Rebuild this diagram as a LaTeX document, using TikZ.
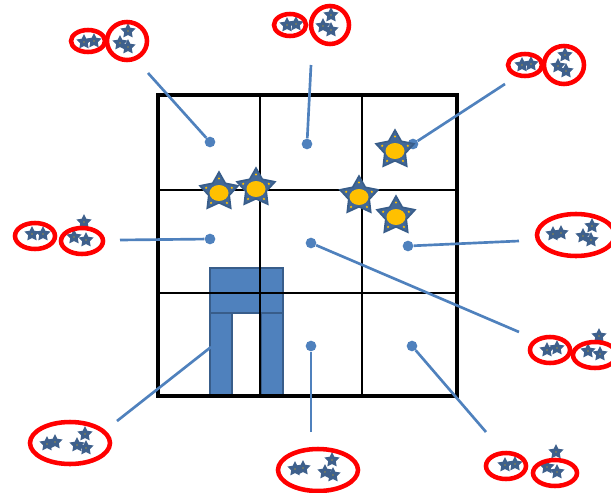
\documentclass[tikz,border=0pt]{standalone}
\usetikzlibrary{shapes.geometric}
\definecolor{linkblue}{RGB}{79,129,189}
\definecolor{shapeblue}{RGB}{79,129,189}
\definecolor{shapeedge}{RGB}{56,93,138}
\definecolor{starblue}{RGB}{62,96,140}
\definecolor{bigstarblue}{RGB}{66,104,152}
\definecolor{staryellow}{RGB}{255,192,0}
\definecolor{ringred}{RGB}{255,0,0}
\tikzset{
  smallstar/.pic={
    \fill[starblue] (-90:8) -- (-54:4) -- (-18:8) -- (18:4) -- (54:8) -- (90:4)
      -- (126:8) -- (162:4) -- (198:8) -- (234:4) -- cycle;
    \fill[staryellow] (0,0) circle (0.7);
  },
  bigstar/.pic={
    \filldraw[fill=bigstarblue, draw=shapeedge, line width=1.2pt]
      (-90:20) -- (-54:10.8) -- (-18:20) -- (18:10.8) -- (54:20) -- (90:10.8)
      -- (126:20) -- (162:10.8) -- (198:20) -- (234:10.8) -- cycle;
    \fill[staryellow] (0,1) ellipse (9.5 and 8);
    \foreach \a in {-90,-18,54,126,198} \fill[staryellow] (\a:13.5) circle (1.2);
  },
  ring/.style={draw=ringred, line width=3.4pt},
  gridthin/.style={draw=black, line width=0.8pt},
  gridframe/.style={draw=black, line width=2.3pt},
  link/.style={draw=linkblue, line width=2pt},
  dotnode/.style={circle, fill=linkblue, inner sep=0pt, minimum size=8pt},
  blockpart/.style={fill=shapeblue, draw=shapeedge, line width=2pt},
}
\begin{document}
\begin{tikzpicture}[x=0.75pt,y=-0.75pt]
\useasboundingbox (0,0) rectangle (611,493);
\clip (0,0) rectangle (611,493);

% blue pi-shaped block
\draw[blockpart] (210,313) rectangle (232,396);
\draw[blockpart] (261,313) rectangle (283,396);
\draw[blockpart] (210,268) rectangle (283,313);

% grid
\draw[gridthin] (260,95) -- (260,396);
\draw[gridthin] (362,95) -- (362,396);
\draw[gridthin] (158,190) -- (457,190);
\draw[gridthin] (158,293) -- (457,293);
\draw[gridframe] (158,95) rectangle (457,396);

% connector dots
\node[dotnode] (d1) at (210,142) {};
\node[dotnode] (d2) at (307,144) {};
\node[dotnode] (d3) at (413,144) {};
\node[dotnode] (d4) at (210,239) {};
\node[dotnode] (d5) at (311,243) {};
\node[dotnode] (d6) at (408,246) {};
\node[dotnode] (d7) at (311,346) {};
\node[dotnode] (d8) at (412,346) {};

% free ends
\coordinate (e1) at (148,73);
\coordinate (e2) at (311,65);
\coordinate (e3) at (505,84);
\coordinate (e4) at (120,240);
\coordinate (e5) at (519,332);
\coordinate (e6) at (519,241);
\coordinate (e7) at (311,432);
\coordinate (e8) at (486,432);
\coordinate (e9) at (117,421);
\coordinate (d9) at (211,347);

\draw[link] (e1) -- (d1);
\draw[link] (e2) -- (d2);
\draw[link] (e3) -- (d3);
\draw[link] (e4) -- (d4);
\draw[link] (e5) -- (d5);
\draw[link] (e6) -- (d6);
\draw[link] (e7) -- (d7);
\draw[link] (e8) -- (d8);
\draw[link] (e9) -- (d9);

% big stars in the grid
\pic at (219,192) {bigstar};
\pic at (256,188) {bigstar};
\pic at (395,150) {bigstar};
\pic at (359,196) {bigstar};
\pic at (396,216) {bigstar};

% group A (top left)
\foreach \p in {(84,42),(94,41),(128,31),(120,43),(128,47)} \pic at \p {smallstar};
\draw[ring] (88,41) ellipse (17 and 11);
\draw[ring] (127,41) ellipse (20 and 19);

% group B (top middle)
\foreach \p in {(287,25),(296,24),(331,15),(323,26),(331,30)} \pic at \p {smallstar};
\draw[ring] (290,25) ellipse (16 and 11);
\draw[ring] (330,25) ellipse (19 and 19);

% group C (top right)
\foreach \p in {(522,65),(531,64),(565,55),(558,66),(566,71)} \pic at \p {smallstar};
\draw[ring] (525,65) ellipse (17 and 11);
\draw[ring] (564,65) ellipse (20 and 19);

% group D (left)
\foreach \p in {(32,234),(43,234),(84,222),(74,237),(86,240)} \pic at \p {smallstar};
\draw[ring] (35,236) ellipse (20 and 13);
\draw[ring] (82,241) ellipse (21 and 13);

% group E (right)
\foreach \p in {(553,234),(561,233),(592,226),(583,236),(591,240)} \pic at \p {smallstar};
\draw[ring] (576,235) ellipse (39 and 21);

% group F (right lower)
\foreach \p in {(547,350),(557,348),(599,336),(588,351),(600,354)} \pic at \p {smallstar};
\draw[ring] (550,350) ellipse (20 and 13);
\draw[ring] (595,355) ellipse (22 and 13);

% group G (bottom left)
\foreach \p in {(47,444),(55,442),(85,434),(77,445),(86,448)} \pic at \p {smallstar};
\draw[ring] (70,443) ellipse (40 and 21);

% group H (bottom middle)
\foreach \p in {(295,469),(303,468),(332,460),(325,472),(333,475)} \pic at \p {smallstar};
\draw[ring] (318,470) ellipse (40 and 21);

% group I (bottom right)
\foreach \p in {(505,465),(515,464),(556,452),(547,467),(557,472)} \pic at \p {smallstar};
\draw[ring] (506,466) ellipse (20 and 13);
\draw[ring] (555,473) ellipse (22 and 13);
\end{tikzpicture}
\end{document}
